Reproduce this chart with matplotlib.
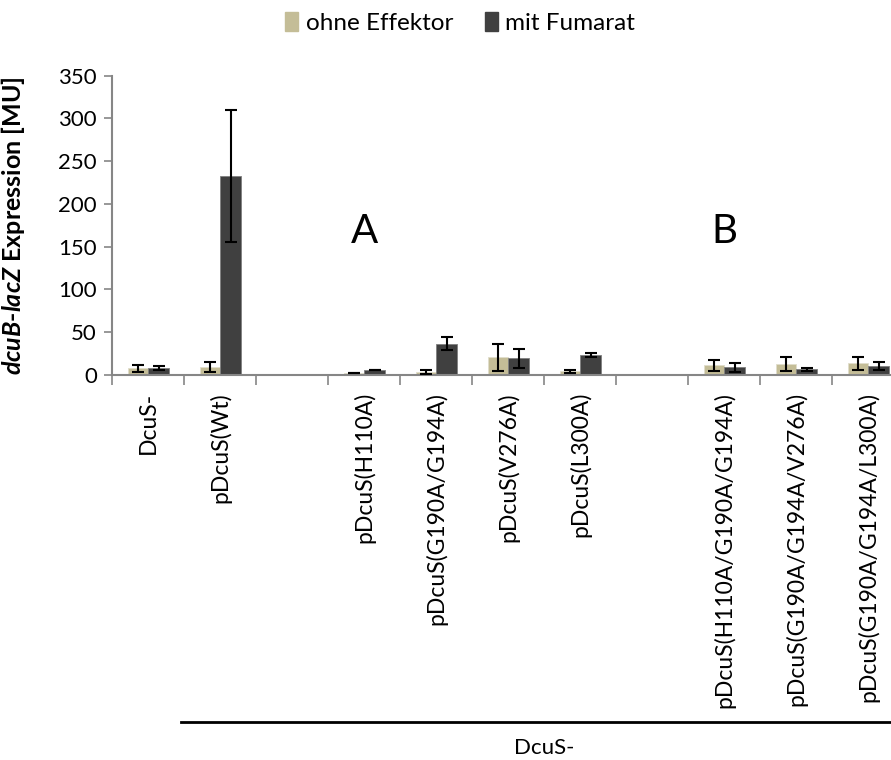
import numpy as np
import matplotlib
matplotlib.use('Agg')
import matplotlib.pyplot as plt
from matplotlib.patches import Patch
import matplotlib.transforms as mtransforms

plt.rcParams['font.family'] = ['Lato', 'DejaVu Sans']
plt.rcParams['mathtext.fontset'] = 'custom'
plt.rcParams['mathtext.bfit'] = 'Lato:italic:bold'
plt.rcParams['mathtext.bf'] = 'Lato:bold'

# data (empty strings are spacer slots)
categories = ['DcuS-', 'pDcuS(Wt)', '', 'pDcuS(H110A)', 'pDcuS(G190A/G194A)',
              'pDcuS(V276A)', 'pDcuS(L300A)', '', 'pDcuS(H110A/G190A/G194A)',
              'pDcuS(G190A/G194A/V276A)', 'pDcuS(G190A/G194A/L300A)']
ohne = [7.8, 9.4, np.nan, 2.0, 3.5, 20.7, 4.3, np.nan, 11.3, 12.5, 13.7]
ohne_err = [4.3, 6.2, np.nan, 0, 2.0, 16.0, 1.5, np.nan, 6.2, 8.0, 7.6]
mit = [8.6, 233.0, np.nan, 5.5, 36.3, 19.5, 23.8, np.nan, 9.0, 6.6, 10.9]
mit_err = [2.4, 77.0, np.nan, 0, 7.6, 11.0, 2.4, np.nan, 5.0, 2.0, 4.5]

c_ohne = '#C4BD97'
c_mit = '#404040'
gray = '#868686'

fig = plt.figure(figsize=(8.91, 7.6), dpi=100)
ax = fig.add_axes([112.3 / 891, 385 / 760, 792 / 891, 299.3 / 760])

x = np.arange(len(categories))
w = 1 / 3.5
ax.bar(x - w / 2, ohne, w, color=c_ohne, edgecolor='#E0DDCC', linewidth=0.6, zorder=2)
ax.bar(x + w / 2, mit, w, color=c_mit, edgecolor='#7F7F7F', linewidth=0.6, zorder=2)
ekw = dict(fmt='none', ecolor='black', elinewidth=1.5, capsize=4.5, capthick=1.5, zorder=3)
ax.errorbar(x - w / 2, ohne, yerr=ohne_err, **ekw)
ax.errorbar(x + w / 2, mit, yerr=mit_err, **ekw)

ax.set_xlim(-0.5, len(categories) - 0.5)
ax.set_ylim(0, 350)
ax.set_yticks(np.arange(0, 351, 50))
ax.tick_params(axis='y', labelsize=16, color=gray, length=6, width=1.2, pad=5)

ax.set_xticks(np.arange(-0.5, len(categories) + 0.5, 1))
ax.set_xticklabels([])
ax.tick_params(axis='x', color=gray, length=7, width=1.2)
for i, lab in enumerate(categories):
    ax.text(i, -20, lab, rotation=90, ha='center', va='top', fontsize=16.5)

for s in ['top', 'right']:
    ax.spines[s].set_visible(False)
for s in ['left', 'bottom']:
    ax.spines[s].set_color(gray)
    ax.spines[s].set_linewidth(1.5)

ax.set_ylabel(r'$\mathbfit{dcuB}$-$\mathbfit{lacZ}$ Expression [MU]',
              fontsize=18, fontweight='bold')
ax.yaxis.set_label_coords(-0.108, 0.5)

ax.text(3, 168, 'A', fontsize=29, ha='center', va='center')
ax.text(8, 168, 'B', fontsize=29, ha='center', va='center')

# second level category line
trans = mtransforms.blended_transform_factory(ax.transData, fig.transFigure)
ax.plot([0.45, 10.6], [1 - 722.3 / 760] * 2, color='black', lw=2, transform=trans, clip_on=False)
ax.text(5.5, 1 - 748 / 760, 'DcuS-', fontsize=16, ha='center', va='center', transform=trans)

handles = [Patch(color=c_ohne, label='ohne Effektor'), Patch(color=c_mit, label='mit Fumarat')]
fig.legend(handles=handles, loc='center', bbox_to_anchor=(460 / 891, 1 - 23 / 760), ncol=2,
           frameon=False, fontsize=17.5, handlelength=0.55, handleheight=0.8, handletextpad=0.3,
           columnspacing=1.3)

fig.savefig('out.png', dpi=100)
